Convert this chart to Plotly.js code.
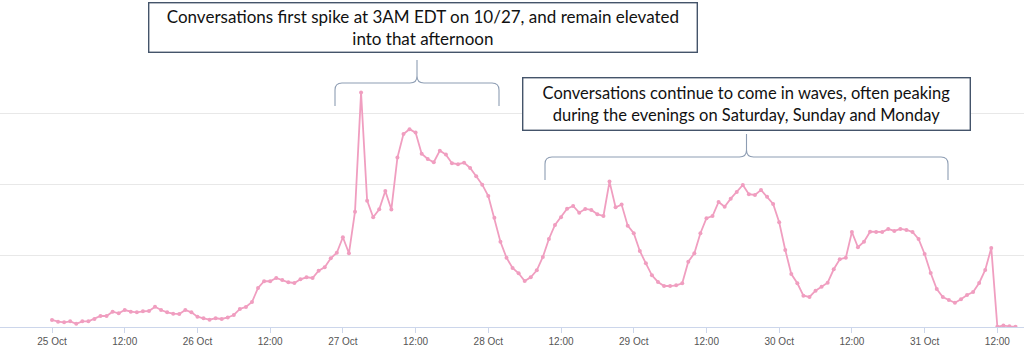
<!DOCTYPE html>
<html>
<head>
<meta charset="utf-8">
<script src="https://cdn.plot.ly/plotly-3.0.1.min.js"></script>
<style>html,body{margin:0;padding:0;background:#fff;}#chart{width:1024px;height:356px;}</style>
</head>
<body>
<div id="chart"></div>
<script>
// Hourly conversation volume starting 25 Oct 00:00 (relative units)
var startDay = 25; // October
var volume = [
  9.9, 7.5, 6.6, 8.0, 4.6, 8.0, 8.0, 11.3, 15.5, 15.5, 21.5, 19.3,
  23.9, 21.5, 20.7, 22.1, 22.5, 28.6, 23.9, 20.7, 18.7, 18.3, 23.9, 20.7,
  14.5, 12.3, 10.3, 12.3, 11.3, 13.4, 16.9, 25.4, 28.2, 35.2, 54.9, 64.4,
  64.4, 69.0, 66.2, 63.0, 62.0, 67.2, 70.0, 69.0, 79.3, 84.1, 96.8, 104.6,
  126.3, 103.8, 162.4, 330.0, 177.9, 154.5, 165.8, 191.5, 165.5, 238.5, 271.8, 278.5,
  273.7, 244.1, 236.6, 232.0, 248.3, 242.7, 230.6, 229.2, 231.4, 223.9, 212.3, 200.4,
  184.5, 153.9, 120.1, 97.6, 83.1, 75.6, 64.8, 70.0, 79.9, 98.6, 123.9, 143.7,
  154.5, 166.6, 170.4, 161.0, 166.2, 164.8, 158.7, 156.3, 204.7, 168.6, 172.3, 142.7,
  132.0, 107.0, 89.7, 72.8, 63.4, 57.7, 57.7, 58.7, 61.5, 92.0, 103.8, 132.0,
  153.1, 156.3, 176.1, 169.4, 180.7, 190.1, 200.0, 186.9, 185.9, 193.0, 183.5, 173.2,
  147.5, 108.5, 74.6, 61.5, 44.1, 42.3, 51.1, 56.8, 62.4, 81.3, 95.4, 97.6,
  133.8, 112.3, 120.1, 134.2, 133.8, 133.8, 138.0, 135.2, 138.0, 136.6, 133.8, 123.9,
  102.8, 76.1, 53.5, 42.3, 38.0, 34.2, 39.0, 45.1, 49.3, 62.0, 80.3, 111.3,
  0.5, 2.0, 1.0, 0.5
];
var tickLabels = ["25 Oct","12:00","26 Oct","12:00","27 Oct","12:00","28 Oct","12:00",
                  "29 Oct","12:00","30 Oct","12:00","31 Oct","12:00"];
var note1 = "Conversations first spike at 3AM EDT on 10/27, and remain elevated<br>into that afternoon";
var note2 = "Conversations continue to come in waves, often peaking<br>during the evenings on Saturday, Sunday and Monday";

function pad(n){ return (n<10?'0':'')+n; }
function stamp(hoursFromStart){
  var d = startDay + Math.floor(hoursFromStart/24);
  var h = hoursFromStart % 24;
  return '2020-10-' + pad(d) + ' ' + pad(h) + ':00';
}
var times = volume.map(function(_, i){ return stamp(i); });
var tickVals = tickLabels.map(function(_, i){ return stamp(i*12); });

// pixel -> paper helpers for annotation decorations
var W = 1024, T = 50, B = 29, H = 356, PH = H - T - B;
function px(x){ return x / W; }
function py(y){ return (H - B - y) / PH; }
function bracePath(x0, x1, yh, ytip, yend){
  var xm = (x0 + x1) / 2, r = 7;
  var pts = [
    'M', px(x0), py(yend), 'L', px(x0), py(yh + r),
    'Q', px(x0), py(yh), px(x0 + r), py(yh),
    'L', px(xm - r), py(yh),
    'Q', px(xm), py(yh), px(xm), py(yh - r),
    'L', px(xm), py(ytip),
    'L', px(xm), py(yh - r),
    'Q', px(xm), py(yh), px(xm + r), py(yh),
    'L', px(x1 - r), py(yh),
    'Q', px(x1), py(yh), px(x1), py(yh + r),
    'L', px(x1), py(yend)
  ];
  return pts.join(' ');
}

var trace = {
  x: times, y: volume, type: 'scatter', mode: 'lines+markers',
  line: {color: 'rgb(240,158,192)', width: 1.8},
  marker: {color: 'rgb(240,158,192)', size: 4},
  hoverinfo: 'x+y'
};

var layout = {
  width: 1024, height: 356,
  margin: {l: 0, r: 0, t: T, b: B, pad: 0},
  paper_bgcolor: '#fff', plot_bgcolor: '#fff',
  showlegend: false,
  xaxis: {
    type: 'date',
    range: ['2020-10-24 15:25', '2020-10-31 16:24'],
    tickmode: 'array', tickvals: tickVals, ticktext: tickLabels,
    showgrid: false, zeroline: false,
    showline: true, linecolor: '#ccd6eb', linewidth: 1,
    ticks: 'outside', ticklen: 5, tickcolor: '#ccd6eb', tickwidth: 1,
    tickfont: {family: 'Liberation Sans, Arial, sans-serif', size: 10, color: '#555'}
  },
  yaxis: {
    range: [0, 390], dtick: 100, tick0: 0,
    showticklabels: false, ticks: '',
    showgrid: true, gridcolor: '#e8e8e8', gridwidth: 1,
    zeroline: false, showline: false
  },
  shapes: [
    {type: 'path', xref: 'paper', yref: 'paper', path: bracePath(335, 499, 83, 60, 106),
     line: {color: '#8d9db3', width: 1.1}},
    {type: 'path', xref: 'paper', yref: 'paper', path: bracePath(545, 948, 157, 134, 180),
     line: {color: '#8d9db3', width: 1.1}}
  ],
  annotations: [
    {xref: 'paper', yref: 'paper', x: px(422.5), y: py(28), xanchor: 'center', yanchor: 'middle',
     text: note1, showarrow: false, align: 'center', valign: 'middle',
     width: 547, height: 48, borderpad: 0, bgcolor: '#fff',
     bordercolor: '#44546a', borderwidth: 1.4,
     font: {family: 'Lato, Carlito, sans-serif', size: 17, color: '#111'}},
    {xref: 'paper', yref: 'paper', x: px(746.5), y: py(103.5), xanchor: 'center', yanchor: 'middle',
     text: note2, showarrow: false, align: 'center', valign: 'middle',
     width: 446, height: 51, borderpad: 0, bgcolor: '#fff',
     bordercolor: '#44546a', borderwidth: 1.4,
     font: {family: 'Lato, Carlito, sans-serif', size: 16.5, color: '#111'}}
  ]
};

Plotly.newPlot('chart', [trace], layout, {displayModeBar: false, staticPlot: true});
</script>
</body>
</html>
